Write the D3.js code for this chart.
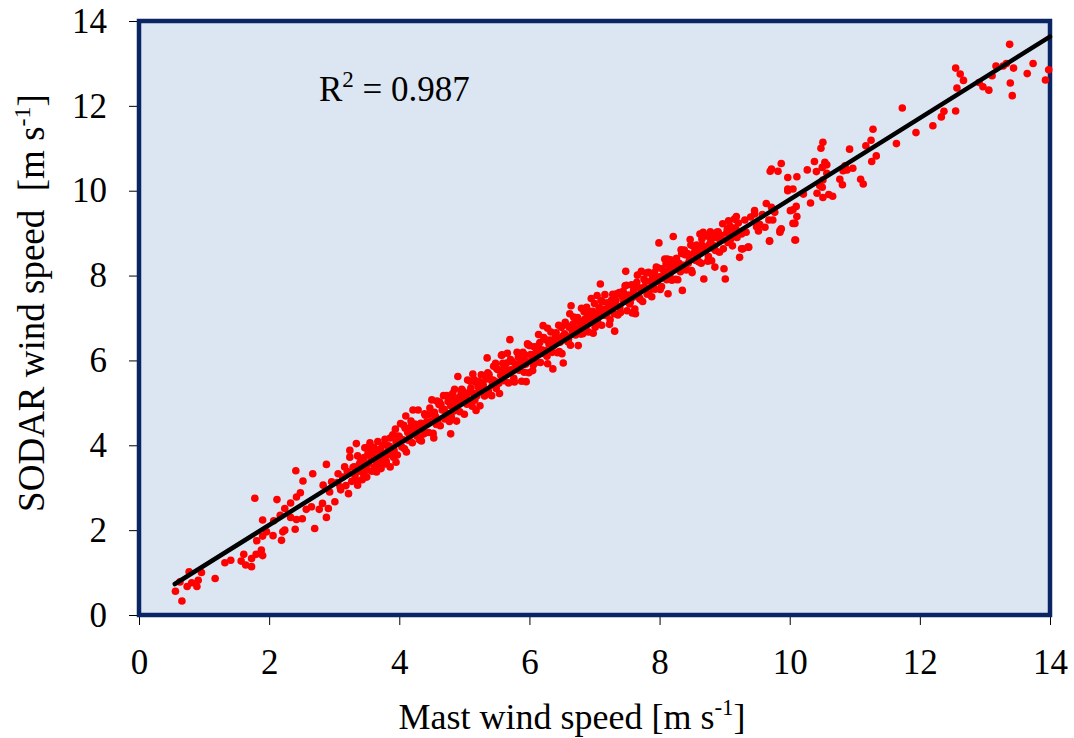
<!DOCTYPE html>
<html><head><meta charset="utf-8">
<script src="https://cdn.jsdelivr.net/npm/d3@7"></script>
<style>body{margin:0;background:#fff}svg text{font-family:"Liberation Serif","Times New Roman",serif;fill:#000}</style>
</head><body><svg id="c" width="1074" height="738"></svg>
<script>
const lowRange = [
[0.56,0.56],[0.66,0.33],[0.63,0.78],[0.77,1.02],[0.74,0.67],[0.81,0.76],[0.89,0.67],[0.91,0.82],[0.96,1.00],[1.17,0.86],
[1.32,1.23],[1.41,1.29],[1.57,1.27],[1.61,1.43],[1.64,1.18],[1.73,1.14],[1.73,1.33],[1.80,1.43],[1.88,1.53],[1.90,1.40],
[1.78,2.75],[1.81,1.75],[1.90,1.86],[1.90,2.24],[1.96,1.96],[2.06,1.87],[2.07,2.22],[2.12,2.72],[2.17,2.35],[2.19,1.76],
[2.21,1.96],[2.24,2.00],[2.24,2.51],[2.33,2.64],[2.33,2.30],[2.40,2.02],[2.41,3.40],[2.42,2.78],[2.42,2.25],[2.48,2.88],
[2.51,2.27],[2.52,3.16],[2.57,2.49],[2.65,2.55],[2.67,3.33],[2.70,2.04],[2.77,2.49],[2.82,2.63],[2.83,3.06],[2.88,2.30],
[2.88,3.55],[2.91,2.51],[2.93,2.90],[2.96,3.14],[3.01,2.67],[3.06,3.33],[3.09,3.02],[3.16,3.49],[3.22,2.86],[3.24,3.72],
[3.24,3.88],[3.34,4.04],[3.39,3.57],[3.45,3.33],[3.52,3.96],[3.65,3.37],[3.65,3.65],[3.75,3.80],[3.86,3.49],[3.91,3.72],
[3.05,3.12],[3.10,2.95],[3.13,3.25],[3.18,3.05],[3.20,3.38],[3.27,3.15],[3.29,3.48],[3.32,3.28],[3.36,3.06],[3.42,3.55],
[3.46,3.71],[3.50,3.25],[3.58,3.84],[3.62,3.48],[3.70,3.90],[3.72,3.45],[3.80,3.62],[3.84,3.98],[3.95,3.60],[3.98,4.15]
];
const range3to5 = [
[3.31,3.49],[3.33,3.18],[3.36,3.75],[3.38,3.39],[3.41,3.65],[3.43,3.19],[3.45,3.58],[3.47,3.94],[3.50,3.42],[3.52,3.81],
[3.53,3.57],[3.56,3.77],[3.58,3.39],[3.61,3.95],[3.63,3.72],[3.65,3.59],[3.67,4.09],[3.70,3.56],[3.72,3.87],[3.74,4.00],
[3.77,3.75],[3.79,3.56],[3.81,4.00],[3.84,3.91],[3.86,4.17],[3.88,3.77],[3.40,3.48],[3.55,4.06],[3.69,3.74],[3.82,3.78],
[3.90,4.25],[3.92,3.88],[3.95,4.08],[3.97,3.77],[3.99,4.22],[4.02,4.51],[4.04,3.96],[4.06,4.13],[4.09,4.40],[4.11,3.84],
[4.13,4.30],[4.15,4.15],[4.18,4.57],[4.20,4.06],[4.22,4.34],[4.24,4.50],[4.27,4.22],[4.29,4.83],[4.31,4.13],[4.33,4.52],
[4.36,4.40],[4.38,4.27],[4.40,4.71],[4.01,4.11],[4.08,3.92],[4.16,4.40],[4.25,4.33],[4.34,4.10],[3.94,4.38],[4.21,4.83],
[4.42,4.55],[4.45,4.30],[4.47,4.88],[4.49,4.56],[4.52,4.28],[4.54,4.78],[4.56,4.67],[4.59,4.55],[4.61,4.96],[4.63,4.46],
[4.66,4.83],[4.68,5.17],[4.70,4.62],[4.72,4.76],[4.75,5.03],[4.77,4.56],[4.79,4.93],[4.82,5.22],[4.84,4.81],[4.86,5.07],
[4.88,4.57],[4.44,4.72],[4.50,5.07],[4.58,4.60],[4.64,4.96],[4.73,5.17],[4.80,4.67],[4.87,4.96],[4.53,4.17],[4.79,4.27],
[4.58,5.04]
];
const range5to7 = [
[4.91,5.12],[4.93,4.79],[4.96,5.32],[4.98,5.02],[5.00,4.73],[5.03,5.17],[5.05,5.54],[5.07,4.99],[5.10,5.35],[5.12,4.92],
[5.14,5.22],[5.17,5.49],[5.19,5.16],[5.21,5.38],[5.24,4.93],[5.26,5.66],[5.28,5.34],[5.31,5.16],[5.33,5.56],[5.35,6.06],
[5.37,5.28],[4.90,5.62],[4.95,5.23],[5.02,5.12],[5.09,5.51],[5.16,5.06],[5.22,5.51],[5.29,5.42],[5.36,5.71],[5.13,5.68],
[5.40,5.55],[5.42,5.17],[5.45,5.86],[5.47,5.51],[5.49,5.34],[5.52,5.78],[5.54,5.22],[5.56,5.65],[5.59,5.93],[5.61,5.52],
[5.63,5.81],[5.66,6.17],[5.68,5.47],[5.70,6.49],[5.72,5.78],[5.74,5.97],[5.77,5.49],[5.79,5.91],[5.81,6.19],[5.84,5.77],
[5.86,6.03],[5.88,5.51],[5.43,5.42],[5.50,5.80],[5.58,5.54],[5.65,5.94],[5.75,5.77],[5.83,6.08],[5.57,6.12],[5.89,5.96],
[5.90,6.19],[5.92,5.72],[5.95,5.98],[5.97,6.39],[5.99,5.71],[6.02,6.14],[6.04,6.00],[6.05,5.76],[6.07,6.32],[6.10,5.96],
[6.12,6.30],[6.14,6.61],[6.17,5.95],[6.19,6.25],[6.21,6.82],[6.23,6.16],[6.26,6.48],[6.28,5.92],[6.30,6.39],[6.33,6.67],
[6.35,6.19],[6.36,5.80],[6.38,6.39],[5.93,6.13],[6.00,6.35],[6.09,6.16],[6.16,6.42],[6.25,6.23],[6.32,6.48],[6.06,5.89],
[6.40,6.55],[6.43,6.18],[6.45,6.83],[6.47,6.43],[6.50,6.16],[6.52,5.94],[6.54,6.63],[6.56,6.84],[6.59,6.44],[6.61,6.78],
[6.63,6.36],[6.64,7.29],[6.66,6.69],[6.68,7.02],[6.71,6.60],[6.73,6.94],[6.75,6.35],[6.78,6.84],[6.80,7.23],[6.82,6.63],
[6.85,6.97],[6.87,6.79],[6.44,6.46],[6.49,6.78],[6.58,6.56],[6.67,6.86],[6.76,6.76],[6.84,7.15],[6.62,7.10],[6.89,7.03]
];
const range7to9 = [
[6.91,6.67],[6.93,7.14],[6.96,6.93],[6.98,6.64],[7.00,7.34],[7.03,7.05],[7.05,6.89],[7.07,7.24],[7.09,7.80],[7.11,6.83],
[7.14,7.20],[7.16,7.55],[7.18,7.06],[7.21,7.33],[7.23,6.85],[7.25,7.25],[7.28,7.56],[7.30,7.10],[7.31,6.69],[7.33,7.42],
[7.35,7.28],[7.38,7.60],[6.95,7.04],[7.02,6.91],[7.12,7.38],[7.19,7.14],[7.26,7.42],[7.36,7.07],[7.04,7.53],[7.22,7.25],
[7.40,7.13],[7.42,7.55],[7.45,7.39],[7.47,7.76],[7.48,8.10],[7.50,7.17],[7.52,7.54],[7.55,7.38],[7.57,7.78],[7.59,7.49],
[7.62,7.21],[7.64,7.73],[7.66,8.01],[7.69,7.48],[7.71,7.69],[7.72,8.10],[7.74,7.39],[7.76,7.92],[7.79,7.71],[7.81,7.56],
[7.83,8.08],[7.86,7.86],[7.88,7.50],[7.44,7.63],[7.53,7.52],[7.61,7.72],[7.68,7.71],[7.78,7.87],[7.85,7.69],[7.58,7.12],
[7.90,7.96],[7.93,7.68],[7.95,8.20],[7.97,7.89],[7.99,8.77],[8.01,7.67],[8.04,8.16],[8.06,7.95],[8.08,8.39],[8.11,7.90],
[8.13,7.57],[8.15,8.18],[8.17,8.37],[8.19,7.89],[8.21,8.92],[8.23,8.17],[8.26,8.41],[8.28,7.90],[8.30,8.29],[8.33,8.61],
[8.35,7.65],[8.37,8.24],[8.39,8.49],[7.92,8.07],[8.00,7.97],[8.10,8.28],[8.18,8.11],[8.24,8.31],[8.32,8.09],[8.38,8.60],
[8.41,8.13],[8.43,8.52],[8.46,8.37],[8.48,8.72],[8.50,8.07],[8.53,8.53],[8.55,8.36],[8.57,8.72],[8.60,8.54],[8.62,8.98],
[8.64,8.29],[8.66,8.71],[8.67,9.02],[8.68,7.92],[8.70,8.58],[8.73,8.93],[8.75,8.45],[8.77,8.74],[8.80,8.35],[8.82,8.94],
[8.84,8.70],[8.85,8.20],[8.87,8.90],[8.44,8.29],[8.52,8.69],[8.59,8.34],[8.69,8.64],[8.78,9.03],[8.86,8.59],[8.63,8.70],
[8.90,9.03],[8.92,8.55],[8.95,8.86],[8.97,9.22],[8.99,8.16],[9.01,7.92],[9.03,9.00],[9.05,8.78],[9.08,9.17],[9.10,8.96],
[9.12,8.70],[9.15,9.33],[9.17,9.10],[9.19,8.90],[9.21,9.24],[8.94,8.95],[9.06,9.29],[9.13,9.08]
];
const coreExtra = [
[3.57,3.68],[3.64,3.89],[3.71,3.63],[3.78,4.14],[3.85,3.97],[3.93,3.76],[4.00,4.20],[4.07,4.47],[4.14,4.12],[4.19,4.47],
[4.26,4.40],[4.32,4.18],[4.39,4.74],[4.46,4.54],[4.51,4.73],[4.57,4.49],[4.62,5.02],[4.69,4.85],[4.74,4.74],[4.81,5.10],
[4.85,5.32],[4.92,5.01],[4.97,5.29],[5.04,4.97],[5.08,5.26],[5.15,5.55],[5.20,5.23],[5.25,5.47],[5.32,5.20],[5.38,5.67],
[5.44,5.54],[5.48,5.93],[5.53,5.46],[5.60,5.78],[5.64,5.67],[5.71,6.02],[5.76,5.58],[5.82,5.91],[5.87,6.13],[5.94,5.91],
[5.98,6.37],[6.03,6.13],[6.08,5.95],[6.13,6.34],[6.18,6.20],[6.22,6.54],[6.27,6.10],[6.31,6.45],[6.37,6.35],[6.41,6.65],
[6.46,6.21],[6.51,6.57],[6.55,6.90],[6.60,6.50],[6.65,6.81],[6.70,6.70],[6.74,7.01],[6.79,6.62],[6.83,6.92],[6.88,7.25],
[6.92,6.88],[6.97,7.16],[7.01,6.78],[7.06,7.11],[7.10,7.41],[7.15,7.07],[7.20,7.36],[7.24,6.96],[7.29,7.30],[7.34,7.57],
[7.39,7.24],[7.43,7.50],[7.49,7.77],[7.54,7.33],[7.60,7.64],[7.65,7.84],[7.70,7.44],[7.75,7.72],[7.80,8.06],[7.84,7.63],
[7.89,7.97],[7.94,7.85],[7.98,8.18],[8.03,7.74],[8.07,8.07],[8.12,8.39],[8.16,7.98],[8.20,8.29],[8.25,7.91],[8.29,8.24],
[8.34,8.52],[8.40,8.17],[8.45,8.47],[8.49,8.12],[8.54,8.67],[8.58,8.48],[8.61,8.32],[8.65,8.86],[8.71,8.66],[8.74,8.34],
[8.79,8.83],[8.83,8.64],[8.88,9.02],[8.93,8.84],[8.98,8.63],[9.04,9.09],[9.09,8.85],[9.14,9.12],[9.18,9.39],[9.22,9.01],
[4.10,4.69],[5.18,4.82],[5.95,5.50],[6.95,7.46],[7.63,7.10],[8.47,8.85],[6.28,6.76],[5.58,6.13]
];
const highRange = [
[9.26,8.63],[9.36,8.67],[9.69,8.82],[9.85,9.06],[10.08,8.84],[10.05,9.23],[9.97,10.04],[9.64,9.70],
[13.38,13.45],[12.55,12.89],[12.62,12.75],[12.67,12.60],[12.57,12.42],[13.74,13.00],[13.65,12.76],[13.44,12.89],
[13.17,12.94],[13.28,12.94],[13.33,13.00],[13.39,12.54],[13.42,12.24],[13.11,12.71],[12.91,12.55],[12.97,12.45],
[13.06,12.37],[13.98,12.85],[13.93,12.61],[11.73,11.95],[11.94,11.37],[12.20,11.53],[12.33,11.74],[12.37,11.87],
[12.55,11.88],[11.64,11.11],[11.28,11.45],[11.25,11.19],[11.17,11.06],[11.33,10.82],[11.26,10.69],[10.92,10.98],
[10.97,10.53],[11.09,10.27],[11.13,10.16],[10.82,10.47],[10.85,10.59],[10.77,10.27],[10.81,10.14],[10.51,11.14],
[10.48,11.00],[10.38,10.69],[10.54,10.67],[10.57,10.61],[10.50,10.55],[10.41,10.45],[10.57,10.41],[10.27,10.49],
[10.11,10.33],[9.97,10.31],[9.87,10.64],[9.72,10.51],[9.70,10.46],[9.82,10.46],[10.51,10.25],[10.50,10.08],
[9.97,10.00],[10.05,10.04],[10.21,9.92],[10.42,9.94],[10.51,9.84],[10.60,9.91],[10.66,9.87],[10.32,9.71],
[10.10,9.63],[10.05,9.55],[10.01,9.53],[10.11,9.39],[10.08,9.23],[10.09,8.84],[9.87,9.10],[9.85,9.02],
[9.69,8.81],[9.72,9.61],[9.77,9.49],[9.68,9.31],[9.74,9.31],[9.62,9.14],[9.54,9.20],
[9.49,9.15],[9.46,9.45],[9.46,9.53],[9.31,9.31],[9.33,9.02],[9.26,8.98],[9.37,8.67],[9.28,8.63],
[9.23,8.43],[10.88,10.49],[10.46,10.12],[9.40,9.38],[9.52,9.05],[9.58,9.44]
];
const fitX = [0.55, 14];
const fitY = [0.73, 13.63];
const xTicks = [0, 2, 4, 6, 8, 10, 12, 14];
const yTicks = [0, 2, 4, 6, 8, 10, 12, 14];
const rSquared = "0.987";

const points = [].concat(lowRange, range3to5, range5to7, range7to9, coreExtra, highRange);
const svg = d3.select("#c");
const x = d3.scaleLinear().domain([0, 14]).range([139, 1050]);
const y = d3.scaleLinear().domain([0, 14]).range([615, 21]);

svg.append("rect")
  .attr("x", x(0)).attr("y", y(14))
  .attr("width", x(14) - x(0)).attr("height", y(0) - y(14))
  .attr("fill", "#dce6f2");

const xAxis = svg.append("g").attr("transform", `translate(0,${y(0)})`)
  .call(d3.axisBottom(x).tickValues(xTicks).tickSize(10).tickSizeOuter(0).tickPadding(24).tickFormat(d3.format("d")));
const yAxis = svg.append("g").attr("transform", `translate(${x(0) - 2},0)`)
  .call(d3.axisLeft(y).tickValues(yTicks).tickSize(8).tickSizeOuter(0).tickPadding(22).tickFormat(d3.format("d")));
[xAxis, yAxis].forEach(g => {
  g.selectAll("path,line").attr("stroke", "#000").attr("stroke-width", 1);
  g.selectAll("text").attr("font-size", 35).attr("fill", "#000");
});

svg.append("rect")
  .attr("x", x(0)).attr("y", y(14))
  .attr("width", x(14) - x(0)).attr("height", y(0) - y(14))
  .attr("fill", "none").attr("stroke", "#0b2463").attr("stroke-width", 4.5);

svg.append("g").selectAll("circle").data(points).join("circle")
  .attr("cx", d => x(d[0])).attr("cy", d => y(d[1])).attr("r", 3.8)
  .attr("fill", "#ff0000");

svg.append("line")
  .attr("x1", x(fitX[0])).attr("y1", y(fitY[0]))
  .attr("x2", x(fitX[1])).attr("y2", y(fitY[1]))
  .attr("stroke", "#000").attr("stroke-width", 4.5).attr("stroke-linecap", "round");

const r2 = svg.append("text").attr("x", 319).attr("y", 101).attr("font-size", 35);
r2.append("tspan").text("R");
r2.append("tspan").attr("dy", -14).attr("font-size", 23).text("2");
r2.append("tspan").attr("dy", 14).text(" = " + rSquared);

const xt = svg.append("text").attr("x", 572).attr("y", 729).attr("text-anchor", "middle").attr("font-size", 36);
xt.append("tspan").text("Mast wind speed [m s");
xt.append("tspan").attr("dy", -14).attr("font-size", 23).text("-1");
xt.append("tspan").attr("dy", 14).text("]");

const yt = svg.append("text").attr("transform", "translate(44,303) rotate(-90)")
  .attr("text-anchor", "middle").attr("font-size", 37).style("white-space", "pre");
yt.append("tspan").text("SODAR wind speed  [m s");
yt.append("tspan").attr("dy", -14).attr("font-size", 24).text("-1");
yt.append("tspan").attr("dy", 14).text("]");
</script>
</body></html>
